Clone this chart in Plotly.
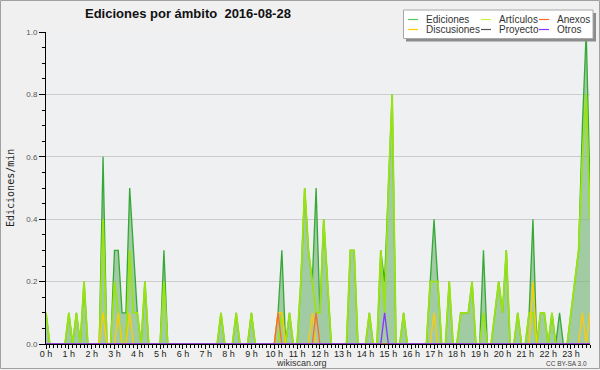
import plotly.graph_objects as go

# ---- data: edits per minute, 10-minute steps (144 points) ----
ediciones = [
    0.1, 0, 0, 0, 0, 0, 0.1, 0, 0.1, 0, 0.2, 0,
    0, 0, 0, 0.6, 0, 0, 0.3, 0.3, 0.1, 0.1, 0.5, 0.3,
    0.1, 0, 0.2, 0, 0, 0, 0, 0.3, 0, 0, 0, 0,
    0, 0, 0, 0, 0, 0, 0, 0, 0, 0, 0.1, 0,
    0, 0, 0.1, 0, 0, 0, 0.1, 0, 0, 0, 0, 0,
    0, 0.1, 0.3, 0, 0.1, 0, 0, 0.2, 0.5, 0.3, 0.2, 0.5,
    0.1, 0.4, 0.2, 0, 0, 0, 0, 0, 0.3, 0.3, 0, 0,
    0, 0.1, 0, 0, 0.3, 0.2, 0.5, 0.8, 0, 0, 0.1, 0,
    0, 0, 0, 0, 0, 0.2, 0.4, 0.2, 0, 0, 0.2, 0,
    0, 0.1, 0.1, 0.1, 0.2, 0, 0, 0.3, 0, 0, 0.1, 0.2,
    0.1, 0.3, 0, 0, 0.1, 0, 0, 0.1, 0.4, 0, 0.1, 0.1,
    0, 0.1, 0, 0.1, 0, 0, 0.1, 0.2, 0.3, 0.7, 1.0, 0.5,
]
articulos = [
    0.1, 0, 0, 0, 0, 0, 0.1, 0, 0.1, 0, 0.2, 0,
    0, 0, 0, 0.4, 0, 0, 0.2, 0.1, 0, 0, 0.3, 0.1,
    0.1, 0, 0.2, 0, 0, 0, 0, 0.2, 0, 0, 0, 0,
    0, 0, 0, 0, 0, 0, 0, 0, 0, 0, 0.1, 0,
    0, 0, 0.1, 0, 0, 0, 0.1, 0, 0, 0, 0, 0,
    0, 0, 0.1, 0, 0.1, 0, 0, 0.2, 0.5, 0.3, 0.2, 0.1,
    0.1, 0.4, 0.2, 0, 0, 0, 0, 0, 0.3, 0.3, 0, 0,
    0, 0.1, 0, 0, 0.3, 0.1, 0.5, 0.8, 0, 0, 0.1, 0,
    0, 0, 0, 0, 0, 0.2, 0.2, 0.2, 0, 0, 0.2, 0,
    0, 0.1, 0.1, 0.1, 0.2, 0, 0, 0.1, 0, 0, 0.1, 0.2,
    0.1, 0.3, 0, 0, 0.1, 0, 0, 0.1, 0.1, 0, 0.1, 0.1,
    0, 0.1, 0, 0, 0, 0, 0.1, 0.2, 0.3, 0.6, 0.8, 0.4,
]
discusiones = [
    0, 0, 0, 0, 0, 0, 0, 0, 0, 0, 0, 0,
    0, 0, 0, 0.1, 0, 0, 0, 0.1, 0, 0, 0.1, 0,
    0, 0, 0, 0, 0, 0, 0, 0, 0, 0, 0, 0,
    0, 0, 0, 0, 0, 0, 0, 0, 0, 0, 0, 0,
    0, 0, 0, 0, 0, 0, 0, 0, 0, 0, 0, 0,
    0, 0.1, 0.1, 0, 0, 0, 0, 0, 0, 0, 0.1, 0,
    0, 0, 0, 0, 0, 0, 0, 0, 0, 0, 0, 0,
    0, 0, 0, 0, 0, 0, 0, 0, 0, 0, 0, 0,
    0, 0, 0, 0, 0, 0, 0.1, 0, 0, 0, 0, 0,
    0, 0, 0, 0, 0, 0, 0, 0, 0, 0, 0, 0,
    0, 0, 0, 0, 0, 0, 0, 0, 0.2, 0, 0, 0,
    0, 0, 0, 0, 0, 0, 0, 0, 0, 0.1, 0, 0.1,
]
anexos = [
    0, 0, 0, 0, 0, 0, 0, 0, 0, 0, 0, 0,
    0, 0, 0, 0, 0, 0, 0, 0, 0, 0, 0, 0,
    0, 0, 0, 0, 0, 0, 0, 0, 0, 0, 0, 0,
    0, 0, 0, 0, 0, 0, 0, 0, 0, 0, 0, 0,
    0, 0, 0, 0, 0, 0, 0, 0, 0, 0, 0, 0,
    0, 0.1, 0, 0, 0, 0, 0, 0, 0, 0, 0, 0.1,
    0, 0, 0, 0, 0, 0, 0, 0, 0, 0, 0, 0,
    0, 0, 0, 0, 0, 0, 0, 0, 0, 0, 0, 0,
    0, 0, 0, 0, 0, 0, 0, 0, 0, 0, 0, 0,
    0, 0, 0, 0, 0, 0, 0, 0, 0, 0, 0, 0,
    0, 0, 0, 0, 0, 0, 0, 0, 0, 0, 0, 0,
    0, 0, 0, 0, 0, 0, 0, 0, 0, 0, 0, 0,
]
proyecto = [0] * 144
otros = [
    0, 0, 0, 0, 0, 0, 0, 0, 0, 0, 0, 0,
    0, 0, 0, 0, 0, 0, 0, 0, 0, 0, 0, 0,
    0, 0, 0, 0, 0, 0, 0, 0, 0, 0, 0, 0,
    0, 0, 0, 0, 0, 0, 0, 0, 0, 0, 0, 0,
    0, 0, 0, 0, 0, 0, 0, 0, 0, 0, 0, 0,
    0, 0, 0, 0, 0, 0, 0, 0, 0, 0, 0, 0,
    0, 0, 0, 0, 0, 0, 0, 0, 0, 0, 0, 0,
    0, 0, 0, 0, 0, 0.1, 0, 0, 0, 0, 0, 0,
    0, 0, 0, 0, 0, 0, 0, 0, 0, 0, 0, 0,
    0, 0, 0, 0, 0, 0, 0, 0, 0, 0, 0, 0,
    0, 0, 0, 0, 0, 0, 0, 0, 0, 0, 0, 0,
    0, 0, 0, 0, 0, 0, 0, 0, 0, 0, 0, 0,
]
hour_labels = [f"{h} h" for h in range(24)]
hour_positions = [h * 6 for h in range(24)]
steps = list(range(144))

series_names = ["Ediciones", "Artículos", "Anexos", "Discusiones", "Proyecto", "Otros"]
colors = {
    "Ediciones": "#35a835",
    "Artículos": "#9ae312",
    "Anexos": "#ff6a2a",
    "Discusiones": "#ffcc00",
    "Proyecto": "#555555",
    "Otros": "#8a33ff",
}
legend_colors = dict(colors, Ediciones="#5cc85c", Artículos="#c8f53c")

# ---- figure geometry ----
W, H = 600, 370
L, R, T, B = 46, 10, 32, 26
PW, PH = W - L - R, H - T - B


def px_x(x):
    return (x - L) / PW


def px_y(y):
    return (H - B - y) / PH


fig = go.Figure()
fig.add_trace(go.Scatter(
    x=steps, y=ediciones, mode="lines", name="Ediciones",
    line=dict(color=colors["Ediciones"], width=1.3),
    fill="tozeroy", fillcolor="rgba(110,180,110,0.6)",
    showlegend=False, hoverinfo="skip"))
for name, vals, w in [("Artículos", articulos, 1.8), ("Discusiones", discusiones, 1.3),
                      ("Anexos", anexos, 1.3), ("Proyecto", proyecto, 1.0),
                      ("Otros", otros, 1.3)]:
    fig.add_trace(go.Scatter(
        x=steps, y=vals, mode="lines", name=name,
        line=dict(color=colors[name], width=w),
        showlegend=False, hoverinfo="skip"))

shapes = []
annotations = []

# outer border
shapes.append(dict(type="rect", xref="paper", yref="paper",
                   x0=px_x(0.5), x1=px_x(599.5), y0=px_y(0.5), y1=px_y(368.5),
                   line=dict(color="#a0a0a0", width=1), fillcolor="rgba(0,0,0,0)", layer="below"))

# legend box with shadow
shapes.append(dict(type="rect", xref="paper", yref="paper",
                   x0=px_x(406), x1=px_x(596), y0=px_y(13), y1=px_y(41.5),
                   line=dict(width=0), fillcolor="#8c8c8c", layer="above"))
shapes.append(dict(type="rect", xref="paper", yref="paper",
                   x0=px_x(403.5), x1=px_x(593), y0=px_y(10), y1=px_y(38.5),
                   line=dict(color="#a8a8a8", width=1), fillcolor="#ffffff", layer="above"))

legend_cols = [(408, 424), (481, 497), (539, 555)]
legend_rows = [19.5, 29.5]
for k, name in enumerate(series_names):
    r, c = divmod(k, 3)
    lx, tx = legend_cols[c]
    ly = legend_rows[r]
    shapes.append(dict(type="line", xref="paper", yref="paper",
                       x0=px_x(lx), x1=px_x(lx + 10), y0=px_y(ly), y1=px_y(ly),
                       line=dict(color=legend_colors[name], width=1.2), layer="above"))
    annotations.append(dict(text=name, xref="paper", yref="paper",
                            x=px_x(tx), y=px_y(ly), xanchor="left", yanchor="middle",
                            showarrow=False,
                            font=dict(family="Liberation Sans", size=10, color="#333333")))

# title
annotations.append(dict(text="Ediciones por ámbito\u00a0\u00a02016-08-28",
                        xref="paper", yref="paper", x=px_x(188), y=px_y(14),
                        xanchor="center", yanchor="middle", showarrow=False,
                        font=dict(family="Liberation Sans", size=13, color="#111111",
                                  weight="bold")))
# y-axis title
annotations.append(dict(text="Ediciones/min", xref="paper", yref="paper",
                        x=px_x(10), y=px_y(188), xanchor="center", yanchor="middle",
                        textangle=-90, showarrow=False,
                        font=dict(family="DejaVu Sans Mono", size=10, color="#222222")))
# footer texts
annotations.append(dict(text="wikiscan.org", xref="paper", yref="paper",
                        x=px_x(301), y=px_y(363), xanchor="center", yanchor="middle",
                        showarrow=False,
                        font=dict(family="Liberation Sans", size=9, color="#333333")))
annotations.append(dict(text="CC BY-SA 3.0", xref="paper", yref="paper",
                        x=px_x(589), y=px_y(363), xanchor="right", yanchor="middle",
                        showarrow=False,
                        font=dict(family="Liberation Sans", size=6.5, color="#444444")))

fig.update_layout(
    width=W, height=H,
    margin=dict(l=L, r=R, t=T, b=B, pad=0),
    paper_bgcolor="#f0f0f0",
    plot_bgcolor="#eef0f2",
    shapes=shapes,
    annotations=annotations,
    showlegend=False,
    xaxis=dict(
        range=[0, 143], tickmode="array", tickvals=hour_positions, ticktext=hour_labels,
        ticks="outside", ticklen=4, tickwidth=1, tickcolor="#000000",
        ticklabelstandoff=-3,
        showline=True, linecolor="#000000", linewidth=1,
        showgrid=False, zeroline=False,
        tickfont=dict(family="Liberation Sans", size=9, color="#222222"),
        minor=dict(tickmode="linear", tick0=0, dtick=1, ticks="outside",
                   ticklen=3, tickcolor="#000000", showgrid=False),
        fixedrange=True,
    ),
    yaxis=dict(
        range=[0, 1.0], tickmode="linear", tick0=0, dtick=0.2, tickformat=".1f",
        ticks="outside", ticklen=6, tickwidth=1, tickcolor="#000000",
        showline=True, linecolor="#000000", linewidth=1,
        showgrid=True, gridcolor="#cccccc", gridwidth=1, zeroline=False,
        tickfont=dict(family="Liberation Sans", size=8, color="#555555"),
        minor=dict(tickmode="linear", tick0=0, dtick=0.05, ticks="outside",
                   ticklen=3, tickcolor="#000000", showgrid=False),
        fixedrange=True,
    ),
)

fig.write_html(
    "out.html",
    config={"displayModeBar": False},
    post_script="document.body.style.margin='0';document.body.style.overflow='hidden';",
)
